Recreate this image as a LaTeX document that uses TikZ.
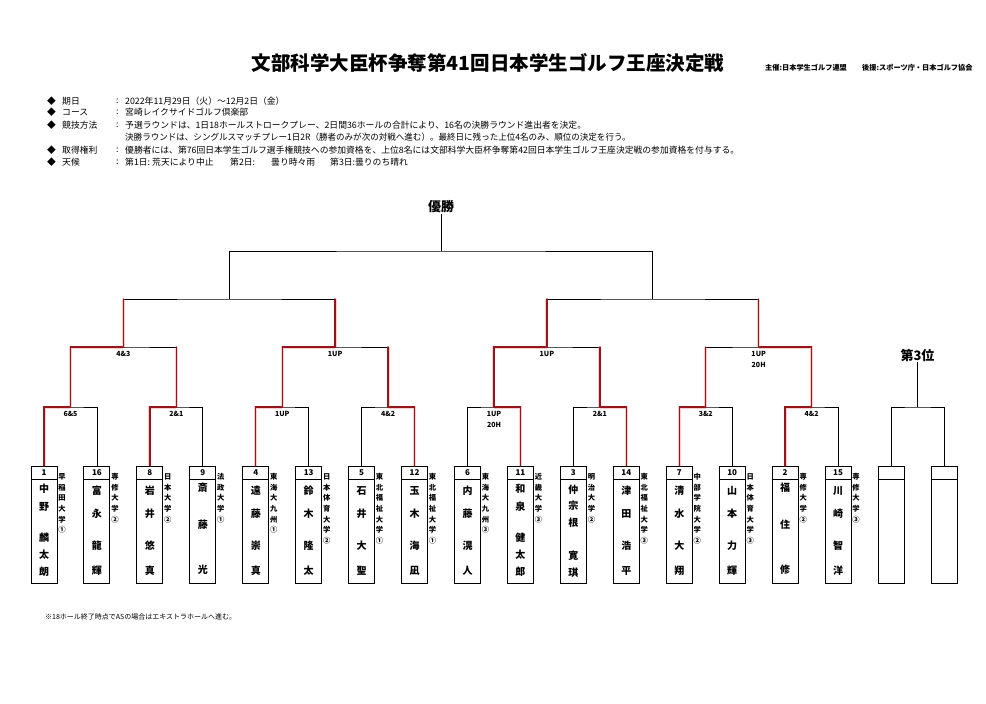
\documentclass[tikz,border=0pt]{standalone}
\usepackage{fontspec}
\setmainfont{Noto Sans CJK JP}
\usepackage{tikz}
\usetikzlibrary{calc}
\definecolor{winred}{RGB}{150,20,28}
\definecolor{glowred}{RGB}{240,110,110}
\tikzstyle{bar}=[draw,line width=.8pt]
\tikzstyle{win}=[draw=winred,line width=1.4pt,line cap=round,preaction={draw=glowred,line width=3pt,opacity=.35}]
\tikzstyle{pbox}=[draw,line width=.9pt,minimum width=26pt,minimum height=117pt,inner sep=0pt,anchor=north]
\tikzstyle{seed}=[font=\bfseries\fontsize{8}{8}\selectfont,inner sep=0pt]
\tikzstyle{namechr}=[font=\bfseries\fontsize{10}{10}\selectfont,inner sep=0pt]
\tikzstyle{schchr}=[font=\bfseries\fontsize{7.3}{7.3}\selectfont,inner sep=0pt]
\tikzstyle{score}=[font=\bfseries\fontsize{7}{11}\selectfont,anchor=north,align=center,inner sep=0pt]
\tikzstyle{info}=[font=\fontsize{8.8}{8.8}\selectfont,anchor=west,inner sep=0pt]
\tikzstyle{head}=[font=\bfseries\fontsize{13}{13}\selectfont,inner sep=1pt]

% name characters of box #1, given as char/y pairs
\newcommand{\pname}[2]{%
  \pgfmathsetmacro\px{44+52.94*(#1-1)}
  \foreach \c/\y [count=\k] in {#2}
    \node[namechr] (n#1-\k) at (\px,\y) {\c};}
\newcommand{\nmfive}[6]{\pname{#1}{#2/489,#3/507,#4/538,#5/555,#6/572}}
\newcommand{\nmfivec}[6]{\pname{#1}{#2/490,#3/506,#4/523,#5/556,#6/573}}
\newcommand{\nmfour}[5]{\pname{#1}{#2/491,#3/514,#4/546,#5/571}}
\newcommand{\nmthree}[4]{\pname{#1}{#2/488,#3/525,#4/570}}
% school column right of box #1
\newcommand{\school}[2]{%
  \pgfmathsetmacro\sx{44+52.94*(#1-1)+18}
  \foreach \c [count=\k] in {#2}
    \node[schchr] (c#1-\k) at (\sx,{477+10.6*(\k-1)}) {\c};}

\begin{document}
\begin{tikzpicture}[x=1pt,y=-1pt]
  \useasboundingbox (0,0) rectangle (986,704);
  \tikzset{title/.style={font=\bfseries\fontsize{19.5}{19.5}\selectfont,inner sep=0pt},
           credit/.style={font=\bfseries\fontsize{7.2}{7.2}\selectfont,anchor=west,inner sep=0pt}}

  % header
  \node[title] (ttl) at (488,63) {文部科学大臣杯争奪第41回日本学生ゴルフ王座決定戦};
  \node[credit] (org) at (765,68) {主催:日本学生ゴルフ連盟};
  \node[credit] (spn) at (862,68) {後援:スポーツ庁・日本ゴルフ協会};

  % outline
  \foreach \y/\lab [count=\k] in {101/期日,112.5/コース,125/競技方法,150/取得権利,162/天候} {
    \node[info] (dot\k) at (47,\y) {◆};
    \node[info] (lab\k) at (62,\y) {\lab};
    \node[info] (col\k) at (116,\y) {:};
  }
  \node[info] (t1) at (125,101) {2022年11月29日（火）～12月2日（金）};
  \node[info] (t2) at (125,112.5) {宮崎レイクサイドゴルフ倶楽部};
  \node[info] (t3) at (125,125) {予選ラウンドは、1日18ホールストロークプレー、2日間36ホールの合計により、16名の決勝ラウンド進出者を決定。};
  \node[info] (t4) at (125,137) {\scalebox{.97}[1]{決勝ラウンドは、シングルスマッチプレー1日2R（勝者のみが次の対戦へ進む）。最終日に残った上位4名のみ、順位の決定を行う。}};
  \node[info] (t5) at (125,150) {優勝者には、第76回日本学生ゴルフ選手権競技への参加資格を、上位8名には文部科学大臣杯争奪第42回日本学生ゴルフ王座決定戦の参加資格を付与する。};
  \node[info] (w1) at (125,162) {第1日:};
  \node[info] (w2) at (152,162) {荒天により中止};
  \node[info] (w3) at (230,162) {第2日:};
  \node[info] (w4) at (271,162) {曇り時々雨};
  \node[info] (w5) at (330,162) {第3日:曇りのち晴れ};

  % player boxes
  \foreach \i/\n in {1/1,2/16,3/8,4/9,5/4,6/13,7/5,8/12,9/6,10/11,11/3,12/14,13/7,14/10,15/2,16/15} {
    \pgfmathsetmacro\px{44+52.94*(\i-1)}
    \node[pbox] (p\i) at (\px,466) {};
    \draw[line width=.9pt] ([yshift=-13pt]p\i.north west) -- ([yshift=-13pt]p\i.north east);
    \node[seed] (s\i) at ([yshift=-6.5pt]p\i.north) {\n};
  }
  \foreach \i in {17,18} {
    \pgfmathsetmacro\px{44+52.94*(\i-1)}
    \node[pbox] (p\i) at (\px,466) {};
    \draw[line width=.9pt] ([yshift=-13pt]p\i.north west) -- ([yshift=-13pt]p\i.north east);
  }

  \nmfive{1}{中}{野}{麟}{太}{朗}    \school{1}{早,稲,田,大,学,①}
  \nmfour{2}{富}{永}{龍}{輝}        \school{2}{専,修,大,学,②}
  \nmfour{3}{岩}{井}{悠}{真}        \school{3}{日,本,大,学,②}
  \nmthree{4}{斎}{藤}{光}           \school{4}{法,政,大,学,①}
  \nmfour{5}{遠}{藤}{崇}{真}        \school{5}{東,海,大,九,州,①}
  \nmfour{6}{鈴}{木}{隆}{太}        \school{6}{日,本,体,育,大,学,②}
  \nmfour{7}{石}{井}{大}{聖}        \school{7}{東,北,福,祉,大,学,①}
  \nmfour{8}{玉}{木}{海}{凪}        \school{8}{東,北,福,祉,大,学,①}
  \nmfour{9}{内}{藤}{滉}{人}        \school{9}{東,海,大,九,州,③}
  \nmfive{10}{和}{泉}{健}{太}{郎}   \school{10}{近,畿,大,学,③}
  \nmfivec{11}{仲}{宗}{根}{寛}{琪}  \school{11}{明,治,大,学,②}
  \nmfour{12}{津}{田}{浩}{平}       \school{12}{東,北,福,祉,大,学,③}
  \nmfour{13}{清}{水}{大}{翔}       \school{13}{中,部,学,院,大,学,②}
  \nmfour{14}{山}{本}{力}{輝}       \school{14}{日,本,体,育,大,学,③}
  \nmthree{15}{福}{住}{修}          \school{15}{専,修,大,学,②}
  \nmfour{16}{川}{崎}{智}{洋}       \school{16}{専,修,大,学,③}

  % bracket
  \foreach \k in {1,...,8} {
    \pgfmathtruncatemacro\a{2*\k-1}
    \pgfmathtruncatemacro\b{2*\k}
    \coordinate (m\k) at ({44+52.94*(2*\k-1.5)},407);
    \draw[bar] (p\a.north) |- (m\k) -| (p\b.north);
  }
  \foreach \j in {1,...,4} {
    \pgfmathtruncatemacro\a{2*\j-1}
    \pgfmathtruncatemacro\b{2*\j}
    \coordinate (q\j) at ({44+52.94*(4*\j-2.5)},347);
    \draw[bar] (m\a) |- (q\j) -| (m\b);
  }
  \foreach \j in {1,2} {
    \pgfmathtruncatemacro\a{2*\j-1}
    \pgfmathtruncatemacro\b{2*\j}
    \coordinate (s\j) at ({44+52.94*(8*\j-4.5)},299);
    \draw[bar] (q\a) |- (s\j) -| (q\b);
  }
  \coordinate (f) at ({44+52.94*7.5},251);
  \draw[bar] (s1) |- (f) -| (s2);
  \node[head] (champ) at (f |- 0,207) {優勝};
  \draw[bar] (champ) -- (f);

  % third place
  \coordinate (t) at ({44+52.94*16.5},407);
  \draw[bar] (p17.north) |- (t) -| (p18.north);
  \node[head] (third) at (t |- 0,355) {第3位};
  \draw[bar] (third) -- (t);

  % winners
  \foreach \w/\k in {1/1,3/2,5/3,8/4,10/5,12/6,13/7,15/8}
    \draw[win] (p\w.north) |- (m\k);
  \foreach \k/\j in {1/1,3/2,5/3,8/4}
    \draw[win] (m\k) |- (q\j);
  \foreach \k/\j in {2/1,4/2,6/3,7/4}
    \draw[win] (m\k) -- (m\k |- q\j);
  \foreach \j in {1,...,4}
    \draw[win] (q\j) -- (q\j |- s1);

  % scores
  \foreach \k/\r in {1/6\&5,2/2\&1,3/1UP,4/4\&2,5/{1UP\\20H},6/2\&1,7/3\&2,8/4\&2}
    \node[score] (r\k) at ([yshift=-4pt]m\k) {\r};
  \foreach \j/\r in {1/4\&3,2/1UP,3/1UP,4/{1UP\\20H}}
    \node[score] (u\j) at ([yshift=-4pt]q\j) {\r};

  \node[info,font=\fontsize{7}{7}\selectfont] (note) at (45,617) {※18ホール終了時点でASの場合はエキストラホールへ進む。};
\end{tikzpicture}
\end{document}
